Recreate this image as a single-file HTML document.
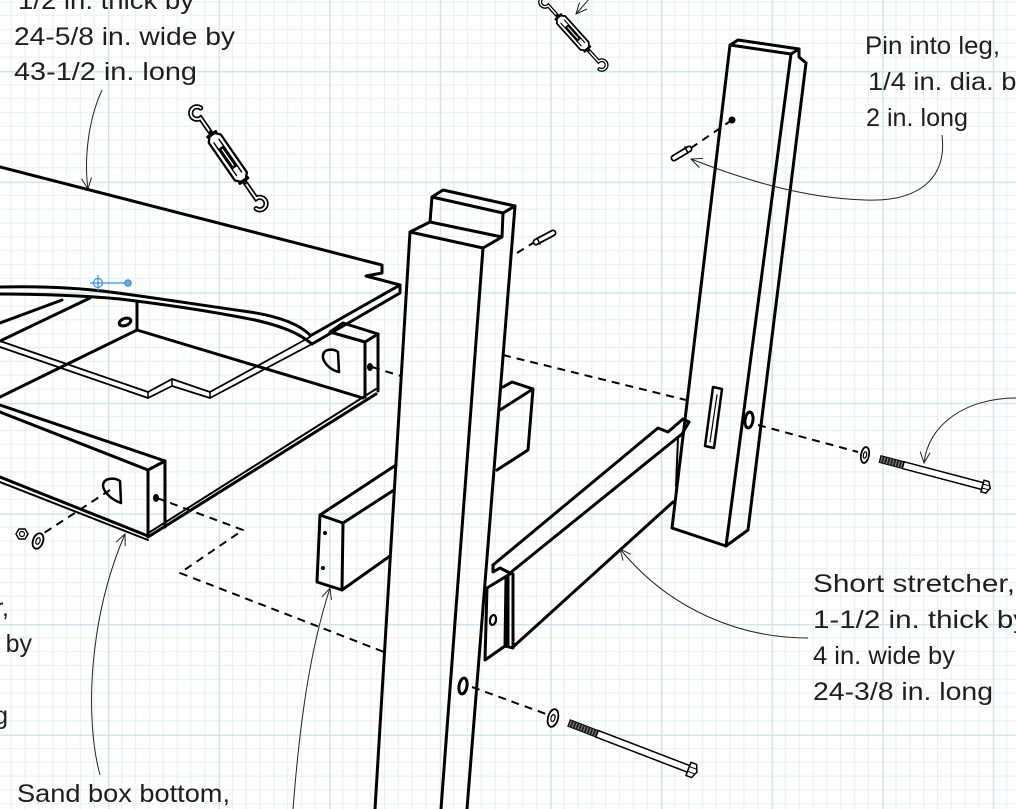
<!DOCTYPE html>
<html><head><meta charset="utf-8"><style>
html,body{margin:0;padding:0;background:#fff;}
svg{display:block;}
text{font-family:"Liberation Sans",sans-serif;font-size:25px;fill:#1e1e1e;}
</style></head><body>
<svg width="1016" height="809" viewBox="0 0 1016 809" xmlns="http://www.w3.org/2000/svg">
<defs>
<pattern id="g" patternUnits="userSpaceOnUse" x="-2.6" y="71" width="110.6" height="110.6">
<g fill="#e2f1f5">
<rect x="13.3" y="0" width="1" height="110.6"/><rect x="27.1" y="0" width="1" height="110.6"/><rect x="41" y="0" width="1" height="110.6"/><rect x="54.8" y="0" width="1" height="110.6"/><rect x="68.6" y="0" width="1" height="110.6"/><rect x="82.4" y="0" width="1" height="110.6"/><rect x="96.3" y="0" width="1" height="110.6"/>
<rect y="13.3" x="0" height="1" width="110.6"/><rect y="27.1" x="0" height="1" width="110.6"/><rect y="41" x="0" height="1" width="110.6"/><rect y="54.8" x="0" height="1" width="110.6"/><rect y="68.6" x="0" height="1" width="110.6"/><rect y="82.4" x="0" height="1" width="110.6"/><rect y="96.3" x="0" height="1" width="110.6"/>
</g>
<rect x="0" y="0" width="1.4" height="110.6" fill="#cfe4ea"/>
<rect x="0" y="0" width="110.6" height="1.4" fill="#cfe4ea"/>
</pattern>
<marker id="ar" markerUnits="userSpaceOnUse" markerWidth="14" markerHeight="12" refX="12" refY="6" orient="auto" viewBox="0 0 14 12">
<path d="M1,1 L12,6 L1,11" fill="none" stroke="#222" stroke-width="1"/>
</marker>
</defs>
<rect width="1016" height="809" fill="#fff"/>
<rect width="1016" height="809" fill="url(#g)"/>

<!-- main drawing -->
<g fill="none" stroke="#000" stroke-width="3" stroke-linejoin="round" stroke-linecap="round">
<!-- lid -->
<path d="M0,167 L382,265 L382,273 L366,276 L400,285 L310,336"/>
<path d="M400,285 L400,293 L312,344"/>
<path d="M0,287 C40,286 80,288 110,292 C150,297 200,305 250,312 C282,317 300,325 310,335"/>
<path d="M0,294 C40,294 90,296 120,299 C170,305 220,313 255,320 C285,327 300,334 312,344"/>
<path d="M0,341 L148,392 L172,379 L210,392 L310,337" stroke-width="1.8"/>
<path d="M0,347 L148,398 L172,386 L210,398 L312,344" stroke-width="1.8"/>
<path d="M148,392 V398 M210,392 V398 M172,379 V386" stroke-width="1.5"/>

<!-- box -->
<path d="M0,323 L62,300"/>
<path d="M0,341 L90,298"/>
<path d="M137,302 L137,330 L363,398"/>
<path d="M137,330 L0,397"/>
<ellipse cx="125" cy="322" rx="6" ry="3.5" transform="rotate(-20 125 322)"/>
<path d="M330,332 L343,323 L378,334 L365,342 Z"/>
<path d="M365,342 V397 M378,334 V391"/>
<path d="M338,352 L339,372 C330,370 322,362 323,355 C324,349 333,348 338,352 Z" stroke-width="2.5"/>
<ellipse cx="370" cy="367" rx="2.5" ry="3.5" fill="#000" stroke-width="1"/>
<path d="M148,537 L376,394"/>
<path d="M150,532 L376,389" stroke-width="2"/>
<path d="M0,477 L148,536"/>
<path d="M0,482 L148,540" stroke-width="2"/>
<path d="M0,405 L165,461 L165,527"/>
<path d="M0,412 L148,470 L165,461"/>
<path d="M148,470 L148,536"/>
<path d="M120,481 L121,503 C112,500 103,492 103,485 C104,478 114,477 120,481 Z" stroke-width="2.5"/>
<ellipse cx="156" cy="498" rx="2.5" ry="3.5" fill="#000" stroke-width="1"/>

<!-- front leg -->
<path d="M432,197 L443,190 L515,206 L503,213 Z"/>
<path d="M432,197 L430,222 L410,232 L483,248 L502,237 L503,213"/>
<path d="M430,222 L502,237"/>
<path d="M410,232 L375,809"/>
<path d="M483,248 L441,809"/>
<path d="M515,206 L467,809"/>
<ellipse cx="463" cy="686" rx="4" ry="8" transform="rotate(10 463 686)"/>

<!-- left stretcher block -->
<path d="M320,515 L343,523 L342,590 L317,582 Z"/>
<path d="M320,515 L396,465 M343,523 L394,490 M342,590 L390,556"/>
<circle cx="325" cy="533" r="2" fill="#000" stroke="none"/>
<circle cx="323" cy="568" r="2" fill="#000" stroke="none"/>
<!-- right block behind leg -->
<path d="M503,387 L512,382 L533,389 L528,450 L497,470 M533,389 L500,410"/>

<!-- short stretcher -->
<path d="M493,565 L658,428 L668,432 L683,419 L689,422 L682,434 L510,573"/>
<path d="M513,647 L673,502"/>
<path d="M678,438 L676,486" stroke-width="2"/>
<path d="M493,565 L493,572 L500,568 L508,572"/>
<path d="M487,588 L510,574"/>
<path d="M487,588 L485,660 L505,646 L506,578"/>
<path d="M508,576 L508,646 M513,574 L513,647 M505,646 L513,648"/>
<ellipse cx="493" cy="620" rx="3" ry="5" stroke-width="2.2" transform="rotate(10 493 620)"/>

<!-- right leg -->
<path d="M730,45 L738,40 L799,49 L791,54 Z"/>
<path d="M799,49 L799,57 L806,63"/>
<path d="M730,45 L672,528 L726,546 L748,530 L806,63"/>
<path d="M791,54 L726,546"/>
<path d="M713,387 L722,389 L714,448 L705,446 Z" stroke-width="2.5"/>
<path d="M717,395 L710,442" stroke-width="1.2"/>
<ellipse cx="749" cy="420" rx="4" ry="8" transform="rotate(8 749 420)"/>
<circle cx="732" cy="120" r="3.5" fill="#000" stroke="none"/>

<!-- dashed lines -->
<g stroke-width="2" stroke-dasharray="8 6" stroke-linecap="butt">
<path d="M157,498 L243,530 L180,573 L384,652"/>
<path d="M110,490 L44,533"/>
<path d="M372,367 L401,376"/>
<path d="M503,355 L686,400"/>
<path d="M758,425 L858,452"/>
<path d="M472,687 L546,714"/>
<path d="M517,253 L533,243"/>
<path d="M732,120 L691,148"/>
</g>
</g>

<!-- pins -->
<g stroke-linecap="round" fill="none">
<path d="M536,242 L553,233" stroke="#000" stroke-width="7"/>
<path d="M536,242 L553,233" stroke="#fff" stroke-width="3.5"/>
<path d="M537,238 L540,244" stroke="#000" stroke-width="1.5"/>
<path d="M674,158 L689,149" stroke="#000" stroke-width="7"/>
<path d="M674,158 L689,149" stroke="#fff" stroke-width="3.5"/>
<path d="M685,147 L688,153" stroke="#000" stroke-width="1.5"/>
</g>

<!-- washers and nut -->
<g stroke="#000" fill="#fff">
<g transform="translate(865,455) rotate(10)"><ellipse rx="4" ry="8" stroke-width="1.8"/><ellipse rx="1.6" ry="3.2" stroke-width="1.2"/></g>
<g transform="translate(553,718) rotate(15)"><ellipse rx="5" ry="9" stroke-width="1.8"/><ellipse rx="2" ry="3.6" stroke-width="1.2"/></g>
<g transform="translate(38,541) rotate(20)"><ellipse rx="5" ry="8" stroke-width="1.8"/><ellipse rx="2" ry="3.4" stroke-width="1.2"/></g>
<polygon points="28,534 25,539 19,539 16,534 19,529 25,529" stroke-width="1.5"/>
<circle cx="22" cy="534" r="2.5" stroke-width="1.2"/>
</g>

<!-- bolts -->
<g transform="translate(880,459) rotate(14.8)" stroke="#000">
<rect x="0" y="-3.5" width="24" height="7" fill="#222" stroke-width="1"/>
<path d="M1,0 H24" stroke="#888" stroke-width="6" stroke-dasharray="1 2" fill="none"/>
<rect x="24" y="-3.5" width="82" height="7" fill="#fff" stroke-width="1.5"/>
<path d="M106,-6 L111,-6 L114,0 L111,6 L106,6 Z" fill="#fff" stroke-width="1.5"/>
<path d="M106,-2 H113 M106,2 H113" stroke-width="1" fill="none"/>
</g>
<g transform="translate(569,723) rotate(21)" stroke="#000">
<rect x="0" y="-3.5" width="30" height="7" fill="#222" stroke-width="1"/>
<path d="M1,0 H30" stroke="#888" stroke-width="6" stroke-dasharray="1 2" fill="none"/>
<rect x="30" y="-3.5" width="98" height="7" fill="#fff" stroke-width="1.5"/>
<path d="M128,-7 L134,-7 L137,0 L134,7 L128,7 Z" fill="#fff" stroke-width="1.5"/>
<path d="M128,-2.5 H136 M128,2.5 H136" stroke-width="1" fill="none"/>
</g>

<!-- turnbuckles -->
<g transform="translate(197,113) rotate(55.3) scale(1.04)" fill="none" stroke-linecap="round">
<path d="M22,0 L6,0 A6,6 0 1 1 -2,-5.6" stroke="#000" stroke-width="5"/>
<path d="M22,0 L6,0 A6,6 0 1 1 -2,-5.6" stroke="#fff" stroke-width="1.8"/>
<path d="M82,0 L100,0 A6,6 0 1 1 108,5.6" stroke="#000" stroke-width="5"/>
<path d="M82,0 L100,0 A6,6 0 1 1 108,5.6" stroke="#fff" stroke-width="1.8"/>
<path d="M22,0 L30,-7 L74,-7 L82,0 L74,7 L30,7 Z" fill="#fff" stroke="#000" stroke-width="2.2"/>
<path d="M33,-3 H71 M33,3 H71" stroke="#000" stroke-width="1.4"/>
<rect x="40" y="-3.2" width="24" height="6.4" fill="#000"/>
<path d="M43,0 H61" stroke="#fff" stroke-width="1.3"/>
<path d="M25,-4.5 V4.5 M79,-4.5 V4.5" stroke="#000" stroke-width="3.2"/>
</g>
<g transform="translate(545,2) rotate(48) scale(0.8)" fill="none" stroke-linecap="round">
<path d="M22,0 L6,0 A6,6 0 1 1 -2,-5.6" stroke="#000" stroke-width="5"/>
<path d="M22,0 L6,0 A6,6 0 1 1 -2,-5.6" stroke="#fff" stroke-width="1.8"/>
<path d="M82,0 L100,0 A6,6 0 1 1 108,5.6" stroke="#000" stroke-width="5"/>
<path d="M82,0 L100,0 A6,6 0 1 1 108,5.6" stroke="#fff" stroke-width="1.8"/>
<path d="M22,0 L30,-7 L74,-7 L82,0 L74,7 L30,7 Z" fill="#fff" stroke="#000" stroke-width="2.2"/>
<path d="M33,-3 H71 M33,3 H71" stroke="#000" stroke-width="1.4"/>
<rect x="40" y="-3.2" width="24" height="6.4" fill="#000"/>
<path d="M43,0 H61" stroke="#fff" stroke-width="1.3"/>
<path d="M25,-4.5 V4.5 M79,-4.5 V4.5" stroke="#000" stroke-width="3.2"/>
</g>

<!-- blue handle -->
<g stroke="#3b8fe8" stroke-width="1.2" fill="none">
<circle cx="98" cy="283" r="4.5"/>
<path d="M90,283 H128 M98,275 V291"/>
<circle cx="128" cy="283" r="3.2" fill="#6aaaf0"/>
</g>

<!-- leader lines -->
<g fill="none" stroke="#222" stroke-width="1" marker-end="url(#ar)">
<path d="M102,90 C88,120 84,160 88,189"/>
<path d="M942,135 C948,185 910,202 865,200 C800,198 740,178 691,159"/>
<path d="M1016,398 C965,398 928,425 924,463"/>
<path d="M808,638 C740,638 670,610 620,549"/>
<path d="M100,775 C85,720 88,620 125,534"/>
<path d="M293,809 C300,720 310,650 330,588"/>
<path d="M590,-2 L576,14"/>
</g>

<!-- text -->
<text x="18" y="9" textLength="176" lengthAdjust="spacingAndGlyphs">1/2 in. thick by</text>
<text x="14" y="45" textLength="221" lengthAdjust="spacingAndGlyphs">24-5/8 in. wide by</text>
<text x="14" y="80" textLength="183" lengthAdjust="spacingAndGlyphs">43-1/2 in. long</text>
<text x="865" y="54" textLength="135" lengthAdjust="spacingAndGlyphs">Pin into leg,</text>
<text x="868" y="90" textLength="162" lengthAdjust="spacingAndGlyphs">1/4 in. dia. by</text>
<text x="866" y="126" textLength="102" lengthAdjust="spacingAndGlyphs">2 in. long</text>
<text x="813" y="592" textLength="202" lengthAdjust="spacingAndGlyphs">Short stretcher,</text>
<text x="813" y="628" textLength="215" lengthAdjust="spacingAndGlyphs">1-1/2 in. thick by</text>
<text x="813" y="664" textLength="142" lengthAdjust="spacingAndGlyphs">4 in. wide by</text>
<text x="813" y="700" textLength="180" lengthAdjust="spacingAndGlyphs">24-3/8 in. long</text>
<text x="17" y="802" textLength="213" lengthAdjust="spacingAndGlyphs">Sand box bottom,</text>
<text x="9" y="616" text-anchor="end">Long stretcher,</text>
<text x="32" y="652" text-anchor="end">1-1/2 in. thick by</text>
<text x="8" y="724" text-anchor="end">43-1/2 in. long</text>
</svg>
</body></html>
